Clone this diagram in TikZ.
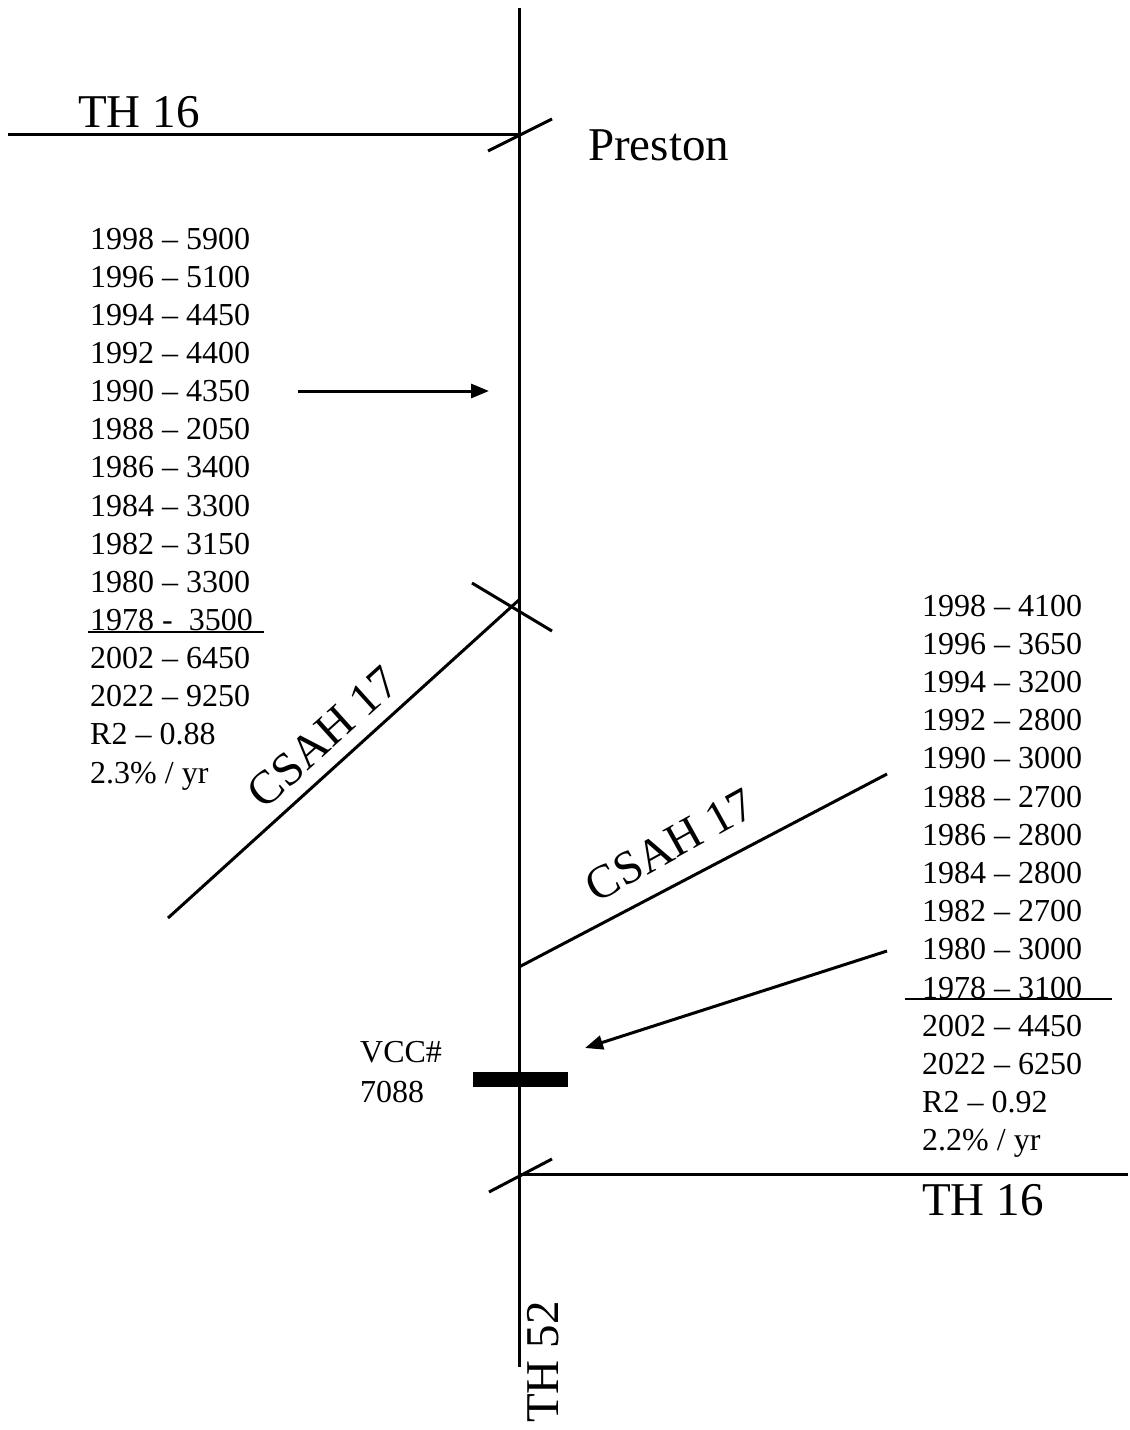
\documentclass[tikz,border=0pt]{standalone}
\usepackage{fontspec}
\setmainfont{Liberation Serif}
\usetikzlibrary{arrows.meta}
\begin{document}
\begin{tikzpicture}[x=1pt,y=-1pt,
  road/.style={line width=3pt},
  data/.style={anchor=base west, inner sep=0pt, font=\fontsize{32}{38}\selectfont},
  big/.style={inner sep=0pt, font=\fontsize{47}{52}\selectfont},
  arr/.style={line width=3pt, -{Triangle[length=18pt,width=14pt]}}]
\useasboundingbox (0,0) rectangle (1130,1430);
% main road TH 52
\coordinate (top) at (519,8);
\coordinate (bot) at (519,1367);
\draw[road] (top) -- (bot);
\node[big, rotate=90] (th52) at (543,1362) {TH 52};
% TH 16 top
\coordinate (w1) at (8,134);
\coordinate (jn1) at (519,134);
\draw[road] (w1) -- (jn1);
\coordinate (t1a) at (488,151);
\coordinate (t1b) at (552,119);
\draw[road] (t1a) -- (t1b);
\node[big, anchor=base west] (th16a) at (78,127) {TH 16};
\node[big, anchor=base west] (preston) at (588,160) {Preston};
% left data
\foreach \t [count=\i] in {1998 – 5900,1996 – 5100,1994 – 4450,1992 – 4400,1990 – 4350,1988 – 2050,1986 – 3400,1984 – 3300,1982 – 3150,1980 – 3300,{1978 -\ \ 3500},2002 – 6450,2022 – 9250,R2 – 0.88,2.3\% / yr}
  \node[data] (L\i) at (90,{249+(\i-1)*38.15}) {\t};
\coordinate (u1a) at (88,632);
\coordinate (u1b) at (264,632);
\draw[line width=2pt] (u1a) -- (u1b);
\coordinate (a1s) at (298,391);
\coordinate (a1e) at (489,391);
\draw[arr] (a1s) -- (a1e);
% CSAH 17 upper
\coordinate (c1a) at (168,918);
\coordinate (c1b) at (520,599);
\draw[road] (c1a) -- (c1b);
\coordinate (x1a) at (472,583);
\coordinate (x1b) at (552,631);
\draw[road] (x1a) -- (x1b);
\node[big, rotate=42] (csah1) at (323,737) {CSAH 17};
% CSAH 17 lower
\coordinate (c2a) at (519,967);
\coordinate (c2b) at (887,774);
\draw[road] (c2a) -- (c2b);
\node[big, rotate=29] (csah2) at (670,845) {CSAH 17};
% right data
\foreach \t [count=\i] in {1998 – 4100,1996 – 3650,1994 – 3200,1992 – 2800,1990 – 3000,1988 – 2700,1986 – 2800,1984 – 2800,1982 – 2700,1980 – 3000,1978 – 3100,2002 – 4450,2022 – 6250,R2 – 0.92,2.2\% / yr}
  \node[data] (R\i) at (922,{616+(\i-1)*38.2}) {\t};
\coordinate (u2a) at (905,999);
\coordinate (u2b) at (1112,999);
\draw[line width=2pt] (u2a) -- (u2b);
\coordinate (a2s) at (887,951);
\coordinate (a2e) at (585,1048);
\draw[arr] (a2s) -- (a2e);
% VCC
\node[fill=black, inner sep=0pt, minimum width=95pt, minimum height=15pt] (vcc) at (520.5,1079.5) {};
\node[data] (vcct1) at (360,1062) {VCC\#};
\node[data] (vcct2) at (360,1102) {7088};
% TH 16 bottom
\coordinate (jn2) at (519,1174);
\coordinate (e2) at (1128,1174);
\draw[road] (jn2) -- (e2);
\coordinate (t2a) at (489,1192);
\coordinate (t2b) at (552,1159);
\draw[road] (t2a) -- (t2b);
\node[big, anchor=base west] (th16b) at (922,1215) {TH 16};
\end{tikzpicture}
\end{document}
